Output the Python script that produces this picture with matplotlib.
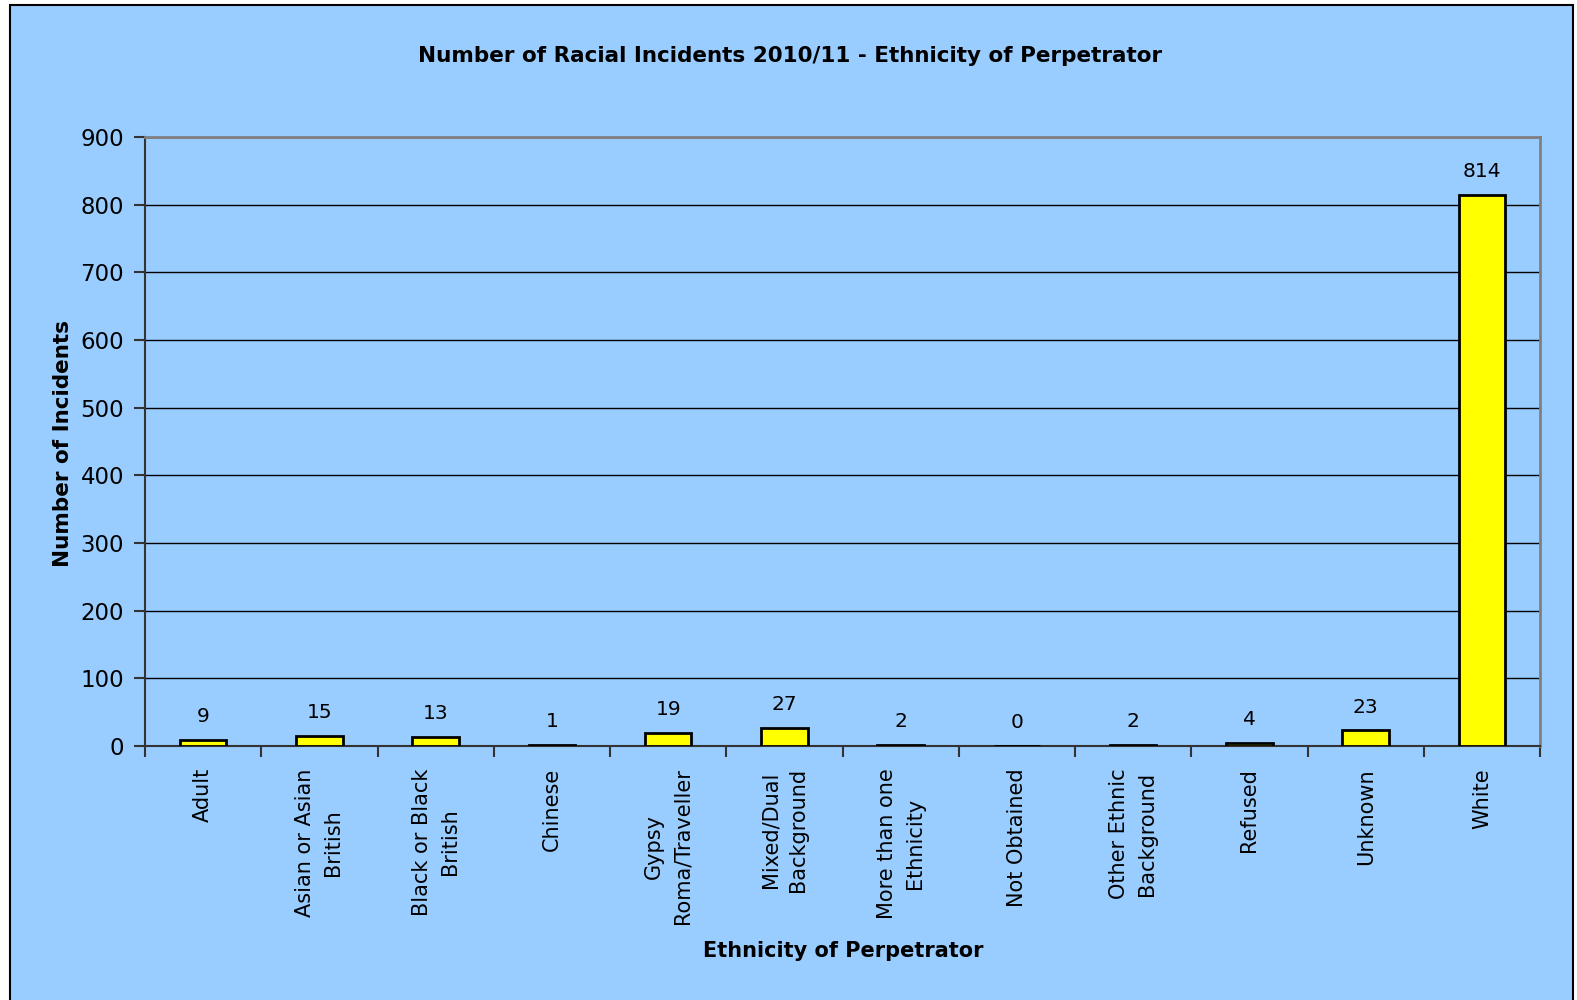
import matplotlib.pyplot as plt
from matplotlib.patches import Rectangle

categories = [
    "Adult", "Asian or Asian\nBritish", "Black or Black\nBritish", "Chinese",
    "Gypsy\nRoma/Traveller", "Mixed/Dual\nBackground", "More than one\nEthnicity",
    "Not Obtained", "Other Ethnic\nBackground", "Refused", "Unknown", "White",
]
incidents = [9, 15, 13, 1, 19, 27, 2, 0, 2, 4, 23, 814]

BG = "#99CCFF"
plt.rcParams["font.family"] = ["DejaVu Sans"]

fig = plt.figure(figsize=(15.77, 10.0), dpi=100)
fig.patch.set_facecolor("white")
fig.patches.append(Rectangle((10 / 1577, -0.01), 1563 / 1577, 1.005, transform=fig.transFigure,
                             facecolor=BG, edgecolor="black", linewidth=1.5, zorder=-10))

ax = fig.add_axes([145 / 1577, 1 - 746 / 1000, (1540 - 145) / 1577, (746 - 137) / 1000])
ax.set_facecolor(BG)

x = range(len(categories))
bars = ax.bar(x, incidents, width=0.4, color="#FFFF00", edgecolor="black", linewidth=2, zorder=3)
for b, v in zip(bars, incidents):
    ax.annotate(str(v), (b.get_x() + b.get_width() / 2, v), xytext=(0, 10),
                textcoords="offset points", ha="center", va="bottom", fontsize=14.5)

ax.set_xlim(-0.5, len(categories) - 0.5)
ax.set_ylim(0, 900)
ax.set_yticks(range(0, 901, 100))
ax.yaxis.grid(True, color="black", linewidth=1, zorder=1)
ax.set_axisbelow(True)

ax.set_xticks(list(x))
ax.set_xticklabels(categories, rotation=90, ha="center", va="top", multialignment="center",
                   fontsize=15, linespacing=1.5)
ax.set_xticks([i - 0.5 for i in range(len(categories) + 1)], minor=True)
ax.tick_params(axis="x", which="major", length=0, pad=16)
ax.tick_params(axis="x", which="minor", length=8, width=1.5, color="#333333")
ax.tick_params(axis="y", length=8, width=1.5, color="#333333", labelsize=16.5, pad=7)

for side in ("top", "right"):
    ax.spines[side].set_color("#808080")
    ax.spines[side].set_linewidth(2)
for side in ("left", "bottom"):
    ax.spines[side].set_color("#333333")
    ax.spines[side].set_linewidth(1.5)

fig.text(790 / 1577, 1 - 56 / 1000, "Number of Racial Incidents 2010/11 - Ethnicity of Perpetrator",
         ha="center", va="center", fontsize=15.5, fontweight="bold")
fig.text(63 / 1577, 1 - 443 / 1000, "Number of Incidents", rotation=90,
         ha="center", va="center", fontsize=15.5, fontweight="bold")
fig.text(843 / 1577, 1 - 951 / 1000, "Ethnicity of Perpetrator",
         ha="center", va="center", fontsize=15, fontweight="bold")

fig.savefig("out.png", dpi=100, facecolor=fig.get_facecolor())
